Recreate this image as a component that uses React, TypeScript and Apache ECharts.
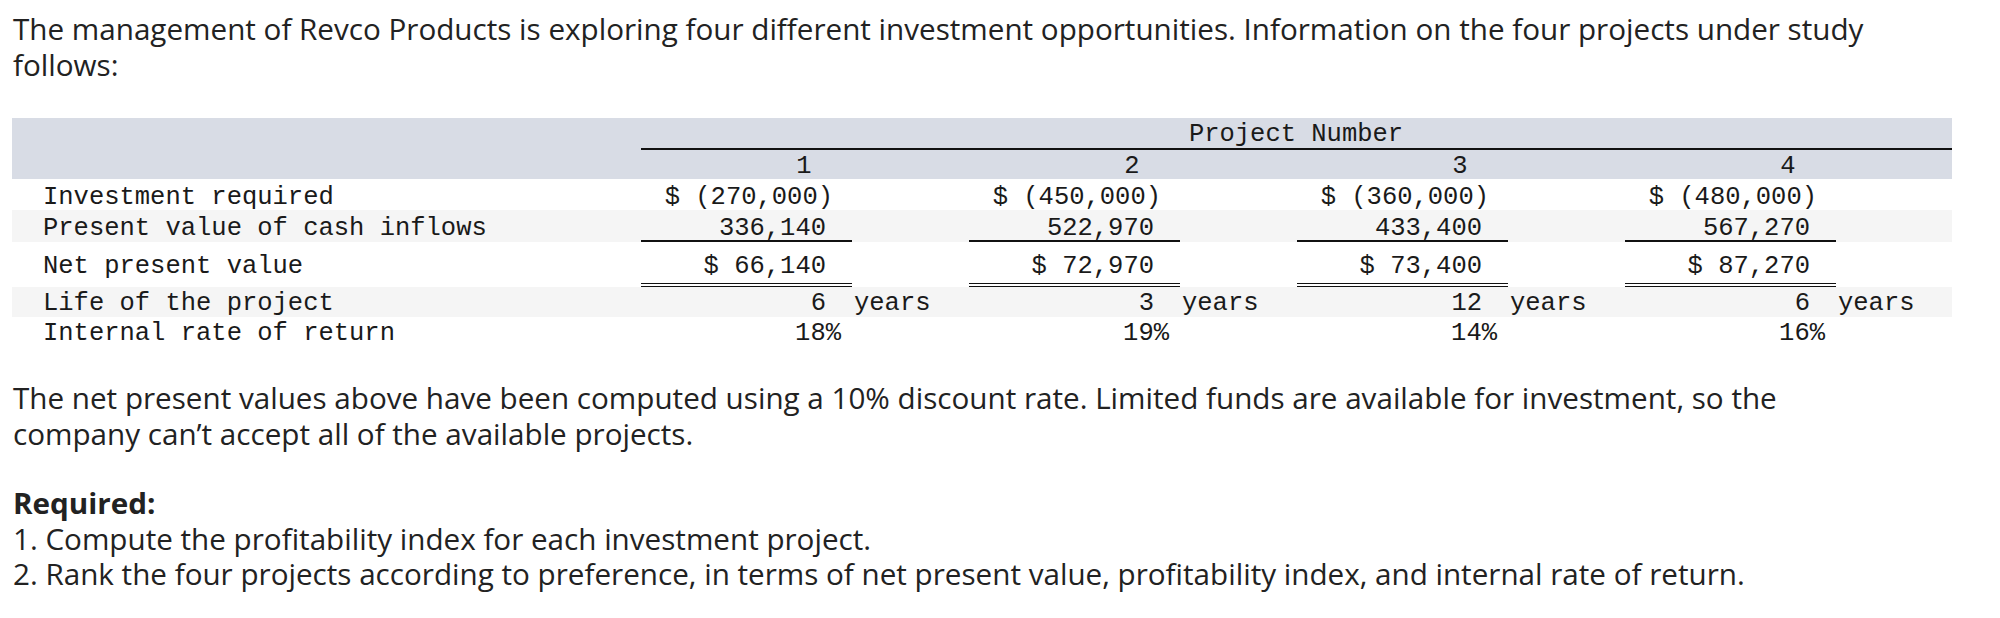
import React, { useEffect, useRef } from "react";
import * as echarts from "echarts";

const introLines = [
  "The management of Revco Products is exploring four different investment opportunities. Information on the four projects under study",
  "follows:",
];
const noteLines = [
  "The net present values above have been computed using a 10% discount rate. Limited funds are available for investment, so the",
  "company can’t accept all of the available projects.",
];
const requiredTitle = "Required:";
const requiredItems = [
  "1. Compute the profitability index for each investment project.",
  "2. Rank the four projects according to preference, in terms of net present value, profitability index, and internal rate of return.",
];
const headerTitle = "Project Number";
const projects = ["1", "2", "3", "4"];
const rowLabels = [
  "Investment required",
  "Present value of cash inflows",
  "Net present value",
  "Life of the project",
  "Internal rate of return",
];
const investment = [-270000, -450000, -360000, -480000];
const pvInflows = [336140, 522970, 433400, 567270];
const npv = [66140, 72970, 73400, 87270];
const lifeYears = [6, 3, 12, 6];
const irr = [18, 19, 14, 16];
const yearsUnit = "years";

const fmt = (n: number) => Math.abs(n).toLocaleString("en-US");

export default function App() {
  const ref = useRef<HTMLDivElement>(null);
  useEffect(() => {
    document.body.style.margin = "0";
    if (!ref.current) return;
    const chart = echarts.init(ref.current, null, { renderer: "svg" });

    const SANS = '"Open Sans", sans-serif';
    const MONO = '"Liberation Mono", monospace';
    const sansSize = 28.5;
    const canvas = document.createElement("canvas");
    const ctx = canvas.getContext("2d")!;
    ctx.font = `${sansSize}px ${SANS}`;
    const w = ctx.measureText(introLines[0]).width || 1852;
    const sansScale = Math.max(0.9, Math.min(1.15, 1852 / w));
    const monoSize = 25.5;
    const textColor = "#222222";
    const monoColor = "#1a1a1a";

    const els: any[] = [];
    const txt = (
      text: string,
      x: number,
      y: number,
      opts: { align?: string; mono?: boolean; bold?: boolean } = {}
    ) => {
      const align = opts.align || "left";
      const fs = opts.mono ? monoSize : sansSize;
      els.push({
        type: "text",
        x,
        y,
        scaleX: opts.mono ? 1 : sansScale,
        silent: true,
        style: {
          text,
          fill: opts.mono ? monoColor : textColor,
          fontFamily: opts.mono ? MONO : SANS,
          fontSize: fs,
          lineHeight: Math.round(fs * 0.95),
          fontWeight: opts.bold ? "bold" : "normal",
          align,
          textAlign: align,
          verticalAlign: "middle",
          textVerticalAlign: "middle",
        },
      });
    };
    const rect = (x: number, y: number, width: number, height: number, fill: string) =>
      els.push({ type: "rect", silent: true, shape: { x, y, width, height }, style: { fill } });
    const line = (x1: number, y1: number, x2: number, y2: number, lw: number) =>
      els.push({
        type: "line",
        silent: true,
        shape: { x1, y1, x2, y2 },
        style: { stroke: "#111111", lineWidth: lw },
      });

    // intro text
    const textX = 13;
    [29, 65].forEach((y, i) => txt(introLines[i], textX, y));

    // table backgrounds
    const tL = 12;
    const tR = 1952;
    rect(tL, 118, tR - tL, 61, "#d8dce5");
    rect(tL, 210, tR - tL, 32, "#f5f5f5");
    rect(tL, 287, tR - tL, 30, "#f5f5f5");

    // header
    line(641, 149, tR, 149, 2);
    txt(headerTitle, 1296, 134, { align: "center", mono: true });

    const colRight = (i: number) => 826 + 328 * i;
    const rowY = [197, 228, 266, 303, 333];
    const labelX = 43;
    rowLabels.forEach((l, r) => txt(l, labelX, rowY[r], { mono: true }));

    projects.forEach((p, i) => {
      const R = colRight(i);
      txt(p, R - 22, 166, { align: "center", mono: true });
      txt(`$ (${fmt(investment[i])})`, R + 7, rowY[0], { align: "right", mono: true });
      txt(fmt(pvInflows[i]), R, rowY[1], { align: "right", mono: true });
      line(R - 185, 241, R + 26, 241, 2);
      txt(`$ ${fmt(npv[i])}`, R, rowY[2], { align: "right", mono: true });
      line(R - 185, 283.5, R + 26, 283.5, 1);
      line(R - 185, 286.5, R + 26, 286.5, 1);
      txt(String(lifeYears[i]), R, rowY[3], { align: "right", mono: true });
      txt(yearsUnit, R + 28, rowY[3], { mono: true });
      txt(`${irr[i]}%`, R + 15, rowY[4], { align: "right", mono: true });
    });

    // notes
    [398, 434].forEach((y, i) => txt(noteLines[i], textX, y));
    txt(requiredTitle, textX, 503, { bold: true });
    [539, 574].forEach((y, i) => txt(requiredItems[i], textX, y));

    chart.setOption({
      animation: false,
      backgroundColor: "#ffffff",
      graphic: { elements: els },
    });
    return () => chart.dispose();
  }, []);
  return <div ref={ref} style={{ width: 2000, height: 618 }} />;
}
